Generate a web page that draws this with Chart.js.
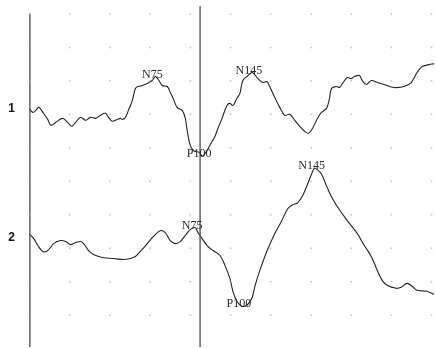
<!DOCTYPE html>
<html>
<head>
<meta charset="utf-8">
<script src="https://cdn.jsdelivr.net/npm/chart.js@4"></script>
<style>
  html, body { margin: 0; padding: 0; background: #ffffff; }
  #wrap { width: 435px; height: 348px; position: relative; }
  canvas { display: block; }
</style>
</head>
<body>
<div id="wrap"><canvas id="c" width="435" height="348"></canvas></div>
<script>
// ---- Data (time in ms, amplitude in µV relative to each channel's baseline) ----
const channelNames = ["1", "2"];

const ch1Time = [0,1.8,3.5,5.3,7.6,10.5,12.3,15.2,19.3,22.2,24.6,26.9,29.8,32.7,35.7,38.6,41.5,44.4,46.2,48.5,51.5,53.2,54.4,56.1,57.9,60.2,62.0,63.7,66.1,69.0,71.9,73.7,75.4,77.8,80.7,82.5,84.2,86.5,89.5,91.2,92.4,94.2,96.5,99.4,101.2,103.5,105.8,108.8,110.5,112.9,115.8,117.5,119.3,121.6,123.4,125.1,127.5,130.4,131.6,133.9,136.8,139.2,140.9,143.9,146.8,149.7,152.6,155.6,158.5,161.4,163.7,166.1,169.0,171.3,174.3,176.0,177.2,180.1,181.9,183.6,186.5,188.9,190.6,193.6,195.3,197.7,200.6,204.1,208.2,214.0,219.9,224.0,227.5,230.4,234.5,237.4];
const ch1Amp = [0,-0.45,-0.15,0.3,-0.45,-1.49,-2.38,-1.93,-1.34,-1.93,-2.52,-1.93,-1.19,-1.63,-1.19,-1.34,-0.89,-0.59,-1.19,-1.78,-1.49,-1.34,-1.49,-1.19,-0.15,1.34,3.12,3.42,3.56,3.86,4.31,4.90,4.46,3.56,3.42,2.52,1.63,0.30,-0.15,-1.19,-3.12,-5.35,-6.24,-6.39,-6.98,-6.39,-5.35,-4.01,-2.82,-1.34,0.59,0.89,0.59,1.63,2.38,4.31,4.90,5.50,5.35,4.60,4.01,4.16,3.42,1.78,0.30,-0.89,-0.74,-1.63,-2.52,-3.27,-3.56,-2.82,-1.34,-0.45,0.15,1.63,3.12,3.42,3.27,3.86,4.75,4.60,4.90,5.05,4.31,3.71,4.31,4.01,3.71,3.27,3.42,4.01,5.50,6.39,6.68,6.83];

const ch2Time = [0,2.3,4.7,7.6,10.5,14.0,18.1,21.1,24.0,26.9,29.8,31.6,34.5,37.4,42.7,49.1,55.0,59.1,62.0,64.9,69.0,72.5,76.6,79.5,82.5,85.4,88.3,91.2,94.2,97.1,98.8,101.2,104.1,107.6,111.7,114.6,117.5,119.3,121.6,124.6,127.5,130.4,132.2,135.1,139.2,143.9,148.0,151.5,154.4,157.3,160.2,163.2,165.5,167.3,169.0,171.3,174.3,177.2,180.7,186.5,192.4,196.5,200.6,204.1,207.0,209.9,215.2,218.1,221.6,224.6,227.5,233.3,237.4];
const ch2Amp = [0,-0.59,-1.63,-2.52,-2.38,-1.34,-0.89,-1.04,-1.49,-1.19,-1.04,-1.34,-2.38,-2.97,-3.42,-3.56,-3.71,-3.56,-3.27,-2.52,-1.34,-0.30,0.59,0.30,-0.89,-1.34,-1.04,-0.15,0.74,1.04,0.30,-0.59,-1.63,-2.38,-3.12,-4.60,-6.54,-8.47,-9.95,-10.69,-10.55,-9.51,-7.72,-5.35,-2.52,0.15,2.08,3.86,4.46,4.75,5.79,7.57,9.06,9.95,9.66,9.06,7.28,5.64,4.16,2.08,0.15,-1.63,-3.27,-5.35,-6.83,-7.57,-8.02,-7.87,-7.28,-7.72,-8.32,-8.47,-8.91];

// channel display offsets (µV) on the common axis
const channelOffsets = [0, -18.71];

// peak markers
const peakNames   = ["N75", "P100", "N145", "N75", "P100", "N145"];
const peakChannel = [0, 0, 0, 1, 1, 1];
const peakTimes   = [73.7, 101.2, 130.4, 97.1, 124.6, 167.3];

// cursor (vertical marker) times, ms
const cursorTimes = [0, 100];

// grid (dot) tick positions
const gridTimes = [-0.2, 23.4, 47.0, 70.6, 94.3, 117.9, 141.5, 165.2, 188.8, 212.4, 236.0];
const gridAmps  = [14.26, 9.26, 4.26, -0.74, -5.74, -10.74, -15.74, -20.74, -25.74, -30.74];

// axis ranges
const X_MIN = -16.96, X_MAX = 237.43;
const Y_MIN = -35.50, Y_MAX = 16.19;

// ---- Build datasets ----
function traceData(times, amps, off) {
  return times.map((t, i) => ({ x: t, y: amps[i] + off }));
}
const traces = [
  traceData(ch1Time, ch1Amp, channelOffsets[0]),
  traceData(ch2Time, ch2Amp, channelOffsets[1])
];

const gridPoints = [];
gridTimes.forEach(t => gridAmps.forEach(a => gridPoints.push({ x: t, y: a })));

const datasets = [
  {
    label: "grid",
    data: gridPoints,
    showLine: false,
    pointRadius: 1,
    pointBorderWidth: 0,
    pointBackgroundColor: "rgba(160,160,160,0.55)",
    pointHoverRadius: 0
  },
  {
    label: "cursor0",
    data: [{ x: cursorTimes[0], y: gridAmps[0] }, { x: cursorTimes[0], y: Y_MIN }],
    borderColor: "#4a4a4a",
    borderWidth: 1.3,
    pointRadius: 0,
    tension: 0
  },
  {
    label: "cursor1",
    data: [{ x: cursorTimes[1], y: 15.45 }, { x: cursorTimes[1], y: Y_MIN }],
    borderColor: "#4a4a4a",
    borderWidth: 1.3,
    pointRadius: 0,
    tension: 0
  },
  {
    label: "Channel 1",
    data: traces[0],
    borderColor: "#222222",
    borderWidth: 1.1,
    pointRadius: 0,
    tension: 0.35
  },
  {
    label: "Channel 2",
    data: traces[1],
    borderColor: "#222222",
    borderWidth: 1.1,
    pointRadius: 0,
    tension: 0.35
  }
];

const labelPlugin = {
  id: "labels",
  afterDatasetsDraw(chart) {
    const ctx = chart.ctx;
    const xs = chart.scales.x, ys = chart.scales.y;
    ctx.save();
    // channel numbers
    ctx.font = "bold 12px 'Liberation Sans', Arial, sans-serif";
    ctx.fillStyle = "#111";
    ctx.textAlign = "center";
    ctx.textBaseline = "middle";
    channelNames.forEach((n, i) => {
      ctx.fillText(n, xs.getPixelForValue(-10.8), ys.getPixelForValue(channelOffsets[i]) + (i === 0 ? -1 : 3));
    });
    // peak labels
    ctx.font = "12px 'Liberation Serif', 'Times New Roman', serif";
    ctx.fillStyle = "#2a2a2a";
    ctx.textBaseline = "alphabetic";
    peakNames.forEach((name, i) => {
      const ch = peakChannel[i];
      const times = ch === 0 ? ch1Time : ch2Time;
      const amps = ch === 0 ? ch1Amp : ch2Amp;
      const idx = times.indexOf(peakTimes[i]);
      const v = amps[idx] + channelOffsets[ch];
      const px = xs.getPixelForValue(peakTimes[i]);
      const py = ys.getPixelForValue(v);
      ctx.fillText(name, px - 3, py + 1);
    });
    ctx.restore();
  }
};

new Chart(document.getElementById("c"), {
  type: "line",
  data: { datasets },
  options: {
    responsive: false,
    devicePixelRatio: 1,
    animation: false,
    parsing: true,
    layout: { padding: 0 },
    plugins: { legend: { display: false }, tooltip: { enabled: false } },
    events: [],
    scales: {
      x: { type: "linear", min: X_MIN, max: X_MAX, display: false },
      y: { type: "linear", min: Y_MIN, max: Y_MAX, display: false }
    }
  },
  plugins: [labelPlugin]
});
</script>
</body>
</html>
